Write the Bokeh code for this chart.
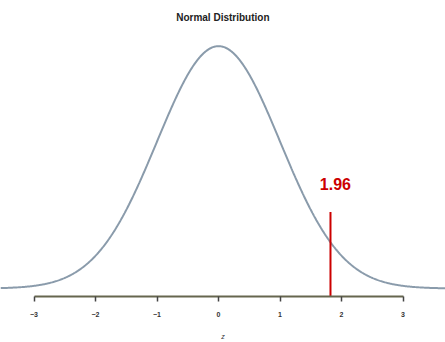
import numpy as np
from bokeh.plotting import figure
from bokeh.models import Range1d, FixedTicker
from bokeh.core.properties import value
from bokeh.embed import file_html
from bokeh.resources import INLINE

# --- data ---
title_text = "Normal Distribution"
axis_label = "z"
tick_values = [-3, -2, -1, 0, 1, 2, 3]
mean = 0.0
sd = 1.0
crit_label = "1.96"
crit_x_drawn = 1.82       # where the red marker is drawn in the picture
crit_top = 0.126          # height of marker top (density units)
label_pos = (1.90, 0.172)
title_pos = (0.07, 0.446)

x_start, x_end = -3.545, 3.69
y_start, y_end = -0.0131, 0.4741

xs = np.linspace(x_start, x_end, 600)
ys = np.exp(-0.5 * ((xs - mean) / sd) ** 2) / (sd * np.sqrt(2 * np.pi))

p = figure(width=445, height=342, output_backend="svg", toolbar_location=None,
           x_range=Range1d(x_start, x_end), y_range=Range1d(y_start, y_end),
           min_border_left=0, min_border_right=0, min_border_top=0,
           min_border_bottom=44, background_fill_color="white",
           border_fill_color="white", outline_line_color=None)

p.grid.visible = False
p.yaxis.visible = False

ax = p.xaxis[0]
ax.ticker = FixedTicker(ticks=tick_values)
ax.bounds = (tick_values[0], tick_values[-1])
ax.axis_line_color = "#66664f"
ax.axis_line_width = 2
ax.major_tick_line_color = "#444444"
ax.major_tick_line_width = 1.5
ax.major_tick_in = 0
ax.major_tick_out = 5
ax.minor_tick_line_color = None
ax.major_label_text_font = "Liberation Sans"
ax.major_label_text_font_size = "7px"
ax.major_label_text_font_style = "bold"
ax.major_label_text_color = "#333333"
ax.major_label_standoff = 10
ax.axis_label = axis_label
ax.axis_label_text_font = "Liberation Sans"
ax.axis_label_text_font_size = "7px"
ax.axis_label_text_font_style = "italic"
ax.axis_label_text_color = "#333333"
ax.axis_label_standoff = 13

p.line(xs, ys, line_color="#8a9bab", line_width=2)

p.segment(x0=[crit_x_drawn], y0=[y_start], x1=[crit_x_drawn], y1=[crit_top],
          line_color="#cc0000", line_width=2)
p.text(x=[label_pos[0]], y=[label_pos[1]], text=[crit_label],
       text_font=value("Liberation Sans"), text_font_size="16px",
       text_font_style="bold", text_color="#cc0000",
       text_align="center", text_baseline="middle")
p.text(x=[title_pos[0]], y=[title_pos[1]], text=[title_text],
       text_font=value("Liberation Sans"), text_font_size="10px",
       text_font_style="bold", text_color="#222222",
       text_align="center", text_baseline="middle")

open("out.html", "w").write(file_html(p, INLINE))
